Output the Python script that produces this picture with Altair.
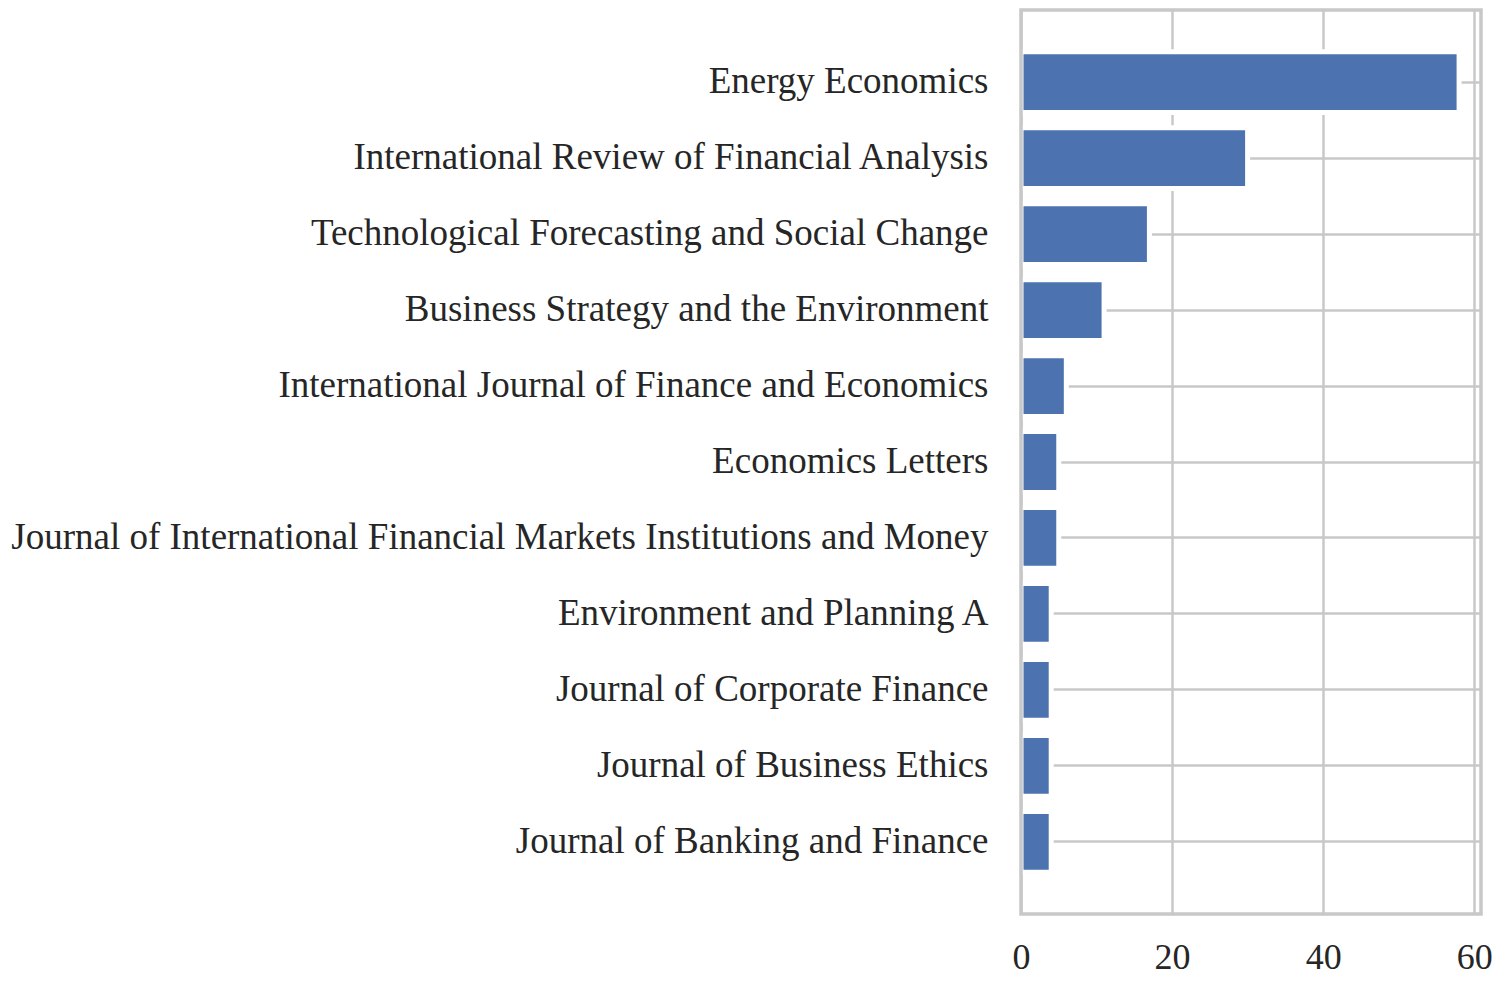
import altair as alt
import pandas as pd

journals = [
    "Energy Economics",
    "International Review of Financial Analysis",
    "Technological Forecasting and Social Change",
    "Business Strategy and the Environment",
    "International Journal of Finance and Economics",
    "Economics Letters",
    "Journal of International Financial Markets Institutions and Money",
    "Environment and Planning A",
    "Journal of Corporate Finance",
    "Journal of Business Ethics",
    "Journal of Banking and Finance",
]
counts = [58, 30, 17, 11, 6, 5, 5, 4, 4, 4, 4]
x_ticks = [0, 20, 40, 60]

df = pd.DataFrame({"journal": journals, "count": counts})

FONT = "Liberation Serif"
GRID = "#c8c8c8"
TEXT = "#262626"
FS = 37

bars = alt.Chart(df).mark_bar(color="#4C72B0", stroke="white", strokeWidth=5).encode(
    x=alt.X(
        "count:Q",
        scale=alt.Scale(domain=[0, 60.9], nice=False, zero=True),
        axis=alt.Axis(values=x_ticks, title=None, grid=True, gridColor=GRID, gridWidth=2.5,
                      domain=False, ticks=False, tickSize=0, labelFont=FONT, labelFontSize=36,
                      labelColor=TEXT, labelPadding=26, labelFlush=False),
    ),
    y=alt.Y(
        "journal:N",
        sort=journals,
        scale=alt.Scale(paddingInner=0.2, paddingOuter=0.55),
        axis=alt.Axis(title=None, grid=True, gridColor=GRID, gridWidth=2.5, domain=False,
                      ticks=False, tickSize=0, labelFont=FONT, labelFontSize=FS,
                      labelColor=TEXT, labelPadding=33, labelLimit=2000),
    ),
)

frame = alt.Chart(pd.DataFrame({"v": [0]})).mark_rect(
    fill="transparent", stroke=GRID, strokeWidth=3.5
).encode(
    x=alt.value(0), x2=alt.value("width"), y=alt.value(0), y2=alt.value("height")
)

chart = (
    alt.layer(bars, frame)
    .properties(
        width=460,
        height=904,
        autosize="none",
        padding={"left": 1013, "top": 2, "right": 16, "bottom": 70},
    )
    .configure_view(strokeWidth=0)
    .configure(background="white")
)

chart.save("out.html", embed_options={"renderer": "svg", "actions": False})
